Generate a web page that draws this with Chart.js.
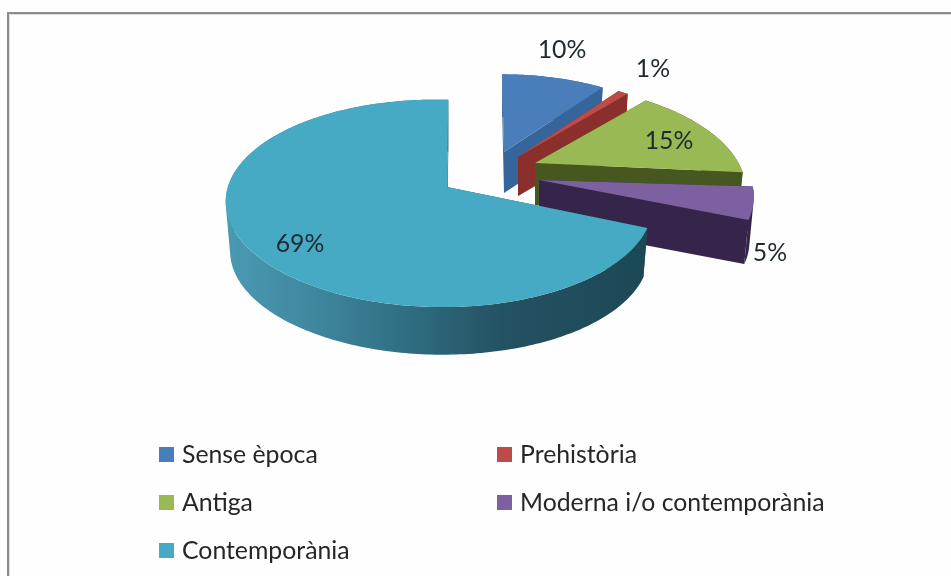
<!DOCTYPE html>
<html>
<head>
<meta charset="utf-8">
<script src="https://cdn.jsdelivr.net/npm/chart.js@4/dist/chart.umd.min.js"></script>
<style>
html,body{margin:0;padding:0;background:#fff;overflow:hidden}
canvas{position:absolute;left:0;top:0;filter:blur(0.5px)}
</style>
</head>
<body>
<canvas id="c" width="951" height="576"></canvas>
<script>
const categories = ["Sense època","Prehistòria","Antiga","Moderna i/o contemporània","Contemporània"];
const percentages = [10,1,15,5,69];
const topColors = ["#4A7EBB","#BE4B48","#98B954","#7D60A0","#46AAC5"];
const sideColors = ["#36659C","#8A2F2C","#46571F","#35254A",null];

// Drawing settings for each slice (apex position, perspective, depth)
const views = [
  {ax:504,ay:152,A:192,B:90,k:.159,m:0,C:0,S:2,D:41},
  {ax:518,ay:157,A:193,B:92,k:.159,m:0,C:0,S:0,D:39},
  {ax:535,ay:163,A:205,B:98,k:.232,m:0,C:3,S:0,D:42},
  {ax:539,ay:180,A:212,B:102,k:.16,m:0,C:0,S:0,D:45},
  {ax:447,ay:187,A:210.5,B:101,k:.159,m:.035,C:3,S:-1.5,D:50}
];
const percentLabelPos = [[562,50],[653,69],[669,141],[770,253],[300,244]];
const legendPos = [[159,447],[497,447],[159,495],[497,495],[159,543]];
const FONT = 'Lato, "Open Sans", sans-serif';

function project(v, t, low){
  const x=Math.sin(t), y=-Math.cos(t), w=1-v.k*y+v.m*x;
  let sx=(v.A*x+v.S*y)/w, sy=(v.B*y+v.C*x)/w;
  if(low){sx*=.98;sy=sy*.98+v.D;}
  return [v.ax+sx,v.ay+sy];
}
function addPoly(ctx,pts){
  pts.forEach((p,i)=>i?ctx.lineTo(p[0],p[1]):ctx.moveTo(p[0],p[1]));
  ctx.closePath();
}
function poly(ctx,pts,fill){
  ctx.beginPath();addPoly(ctx,pts);ctx.fillStyle=fill;ctx.fill();
}
function area(q){
  let a=0;
  q.forEach((p,i)=>{const r=q[(i+1)%q.length];a+=p[0]*r[1]-r[0]*p[1];});
  return a;
}
function cyanSide(ctx){
  const g=ctx.createLinearGradient(225,0,650,0);
  g.addColorStop(0,"#4A9AB3");
  g.addColorStop(.2,"#3F88A0");
  g.addColorStop(.45,"#2F6B7F");
  g.addColorStop(.65,"#245262");
  g.addColorStop(1,"#1C4855");
  return g;
}
const pie3d = {
  id:'pie3d',
  beforeDraw(chart){
    const ctx=chart.ctx;
    ctx.save();
    ctx.fillStyle="#FEFEFE";ctx.fillRect(0,0,951,576);
    ctx.fillStyle="#8C8C8C";
    ctx.fillRect(7,12,944,2);ctx.fillRect(7,12,2,564);
    ctx.fillStyle="#DCDCDC";
    ctx.fillRect(9,14,942,1);ctx.fillRect(9,14,1,562);
    ctx.restore();
  },
  beforeDatasetsDraw(chart){
    const ctx=chart.ctx, meta=chart.getDatasetMeta(0);
    ctx.save();
    meta.data.forEach((arc,i)=>{
      const v=views[i], s=arc.startAngle+Math.PI/2, e=arc.endAngle+Math.PI/2;
      const side=sideColors[i]||cyanSide(ctx);
      const n=Math.max(4,Math.ceil((e-s)/(Math.PI/180)));
      const topArc=[],lowArc=[];
      for(let j=0;j<=n;j++){
        const t=s+(e-s)*j/n;
        topArc.push(project(v,t,false));lowArc.push(project(v,t,true));
      }
      const aT=[v.ax,v.ay],aL=[v.ax,v.ay+v.D];
      poly(ctx,[aT,topArc[0],lowArc[0],aL],side);
      poly(ctx,[aT,topArc[n],lowArc[n],aL],side);
      ctx.beginPath();
      for(let j=0;j<n;j++){
        const q=[topArc[j],topArc[j+1],lowArc[j+1],lowArc[j]];
        addPoly(ctx,area(q)<0?q.reverse():q);
      }
      ctx.fillStyle=side;ctx.fill();
      poly(ctx,[aT].concat(topArc),topColors[i]);
    });
    ctx.restore();
    return false;
  },
  afterDraw(chart){
    const ctx=chart.ctx;
    ctx.save();
    ctx.fillStyle="#1F2A30";
    ctx.font='24.8px '+FONT;
    ctx.textAlign='center';ctx.textBaseline='middle';
    percentages.forEach((p,i)=>ctx.fillText(p+'%',percentLabelPos[i][0],percentLabelPos[i][1]));
    ctx.textAlign='left';ctx.textBaseline='alphabetic';
    chart.data.labels.forEach((l,i)=>{
      const [x,y]=legendPos[i];
      ctx.fillStyle=topColors[i];ctx.fillRect(x,y,15,15);
      ctx.fillStyle="#262626";
      ctx.fillText(l,x+23,y+16);
    });
    ctx.restore();
  }
};
new Chart(document.getElementById('c'),{
  type:'pie',
  data:{labels:categories,datasets:[{data:percentages,backgroundColor:topColors,borderWidth:0}]},
  options:{responsive:false,animation:false,devicePixelRatio:1,
    plugins:{legend:{display:false},tooltip:{enabled:false}}},
  plugins:[pie3d]
});
</script>
</body>
</html>
